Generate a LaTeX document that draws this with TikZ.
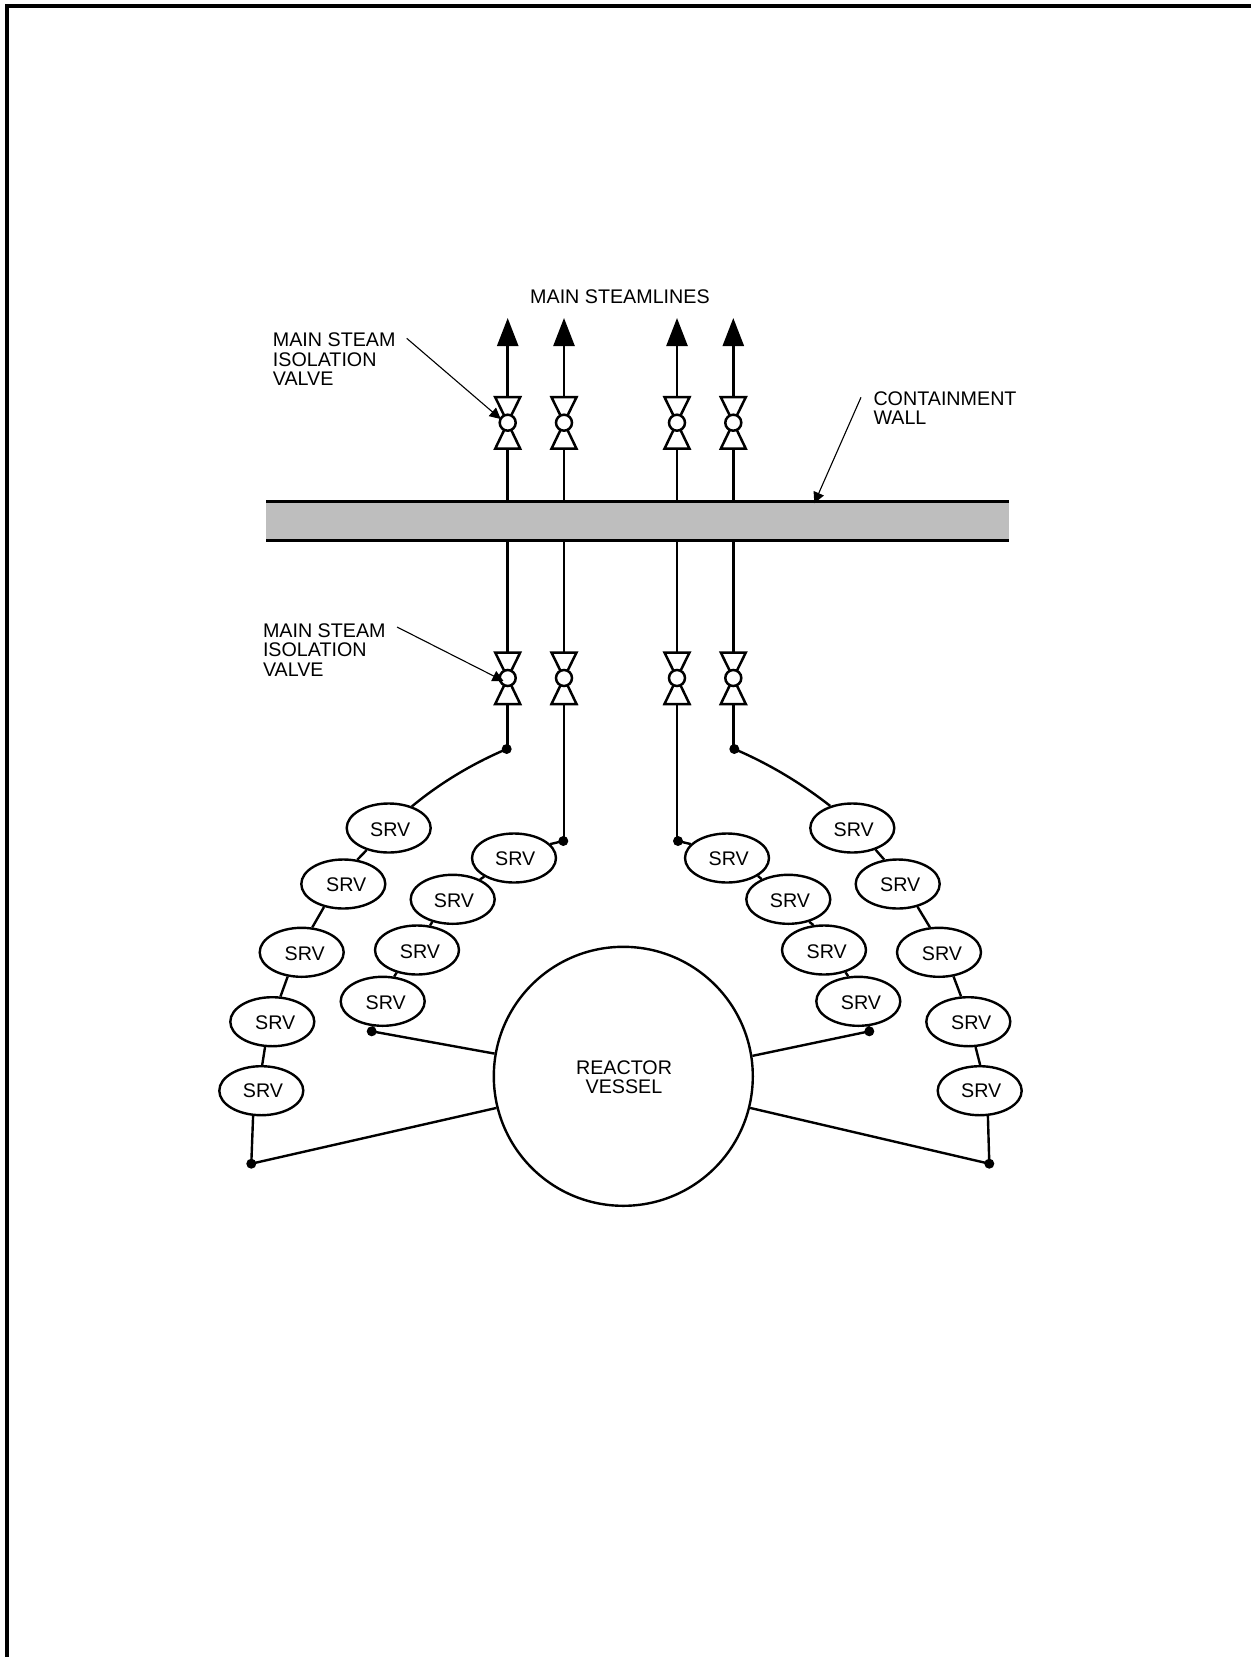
\documentclass[tikz,border=0pt]{standalone}
\usepackage{fontspec}
\setmainfont{Liberation Sans}
\usetikzlibrary{arrows.meta,shapes.geometric}
\tikzset{
  pipe/.style={line width=2.5pt,black},
  link/.style={line width=2.4pt,black},
  srv/.style={ellipse,draw,line width=2.4pt,fill=white,minimum width=84pt,minimum height=49pt,inner sep=0pt},
  srvtext/.style={font=\fontsize{19.7}{20}\selectfont,inner sep=0pt,anchor=center},
  lbl/.style={font=\fontsize{19.7}{19.5}\selectfont,align=left,inner sep=0pt,anchor=north west},
  dotnode/.style={circle,fill=black,minimum size=10pt,inner sep=0pt},
  vcircle/.style={circle,draw,line width=2.5pt,fill=white,minimum size=16pt,inner sep=0pt},
  vtri/.style={draw,line width=2.5pt,fill=white,line join=miter},
  bigarrow/.style={pipe,-{Triangle[length=28pt,width=21pt]}},
  thinarrow/.style={line width=1.1pt,black,-{Triangle[length=11pt,width=11pt]}}
}
\newcommand{\valve}[3]{%
  \draw[vtri] (#2-12.5,#3-25.5) -- (#2+12.5,#3-25.5) -- (#2,#3) -- cycle;
  \draw[vtri] (#2-12.5,#3+26) -- (#2+12.5,#3+26) -- (#2,#3) -- cycle;
  \node[vcircle] (#1) at (#2,#3) {};
}
\begin{document}
\begin{tikzpicture}[x=1pt,y=-1pt]
\useasboundingbox (0,0) rectangle (1251,1657);
% sheet edge
\draw[line width=4pt,line cap=butt] (7.3,1657) -- (7.3,6.3) -- (1251,6.3);
% wall
\fill[fill={rgb,255:red,190;green,190;blue,190}] (266,501.3) rectangle (1009,540.3);
\coordinate (wallTL) at (266,501.3);
\coordinate (wallTR) at (1009,501.3);
\coordinate (wallBL) at (266,540.3);
\coordinate (wallBR) at (1009,540.3);
\draw[pipe] (wallTL) -- (wallTR);
\draw[pipe] (wallBL) -- (wallBR);
% pipe coordinates
\foreach \n/\x in {1/507.7,2/564,3/677,4/733.3}{
  \coordinate (tip\n) at (\x,318);
  \coordinate (wu\n) at (\x,501);
  \coordinate (wd\n) at (\x,542);
}
% dots
\node[dotnode] (d1) at (506.7,749) {};
\node[dotnode] (d2) at (563.3,841) {};
\node[dotnode] (d3) at (678,841) {};
\node[dotnode] (d4) at (734.3,749) {};
\node[dotnode] (d5) at (371.7,1031.3) {};
\node[dotnode] (d6) at (869.3,1031.3) {};
\node[dotnode] (d7) at (251.3,1163.7) {};
\node[dotnode] (d8) at (989.3,1163.7) {};
% pipes
\foreach \n in {1,2,3,4}{
  \draw[bigarrow] (wu\n) -- (tip\n);
}
\draw[pipe] (wd1) -- (507.7,749);
\draw[pipe] (wd2) -- (564,841);
\draw[pipe] (wd3) -- (677,841);
\draw[pipe] (wd4) -- (733.3,749);
% valves
\valve{vu1}{507.7}{422.7}
\valve{vu2}{564}{422.7}
\valve{vu3}{677}{422.7}
\valve{vu4}{733.3}{422.7}
\valve{vd1}{507.7}{678}
\valve{vd2}{564}{678}
\valve{vd3}{677}{678}
\valve{vd4}{733.3}{678}
% vessel
\node[circle,draw,line width=2.4pt,minimum size=259pt,inner sep=0pt,fill=white] (V) at (623.3,1076.3) {};
\node[font=\fontsize{19.7}{18.8}\selectfont,align=center,inner sep=0pt] (Vt) at (624,1077.5) {REACTOR\\VESSEL};
% SRV ellipses
\foreach \n/\x/\y in {
 E1/388.7/828,E2/343.3/884,E3/301.7/952.3,E4/272.3/1021.7,E5/261.3/1090.7,
 I1/514/858,I2/452.7/899.3,I3/417/950,I4/382.7/1001.3,
 R1/727/858,R2/788.3/899.3,R3/824/950,R4/858.3/1001.3,
 O1/852.3/828,O2/897.7/884,O3/939/952.3,O4/968.3/1021.7,O5/979.7/1090.7}{
  \node[srv] (\n) at (\x,\y) {};
}
\foreach \n/\x/\y in {
 E1/390.3/830,E2/346.3/885,E3/304.7/953.6,E4/275.3/1023,E5/263/1091,
 I1/515.3/858.8,I2/454/900.6,I3/420/952,I4/385.7/1002.6,
 R1/728.7/858.8,R2/790/900.6,R3/826.7/952,R4/861/1002.6,
 O1/853.7/830,O2/900.3/885,O3/942/953.6,O4/971.3/1023,O5/981.3/1091}{
  \node[srvtext] (t\n) at (\x,\y) {SRV};
}
% links
\draw[link] (d1.center) .. controls (472.5,763.6) and (440.8,782.5) .. (E1.43);
\draw[link] (E1.225) -- (E2.60);
\draw[link] (E2.230) -- (E3.67);
\draw[link] (E3.240) -- (E4.72);
\draw[link] (E4.254) -- (E5.88);
\draw[link] (E5.252) -- (d7.center);
\draw[link] (d7.center) -- (V.194);
\draw[link] (d2.center) -- (I1.21);
\draw[link] (I1.212) -- (I2.36);
\draw[link] (I2.228) -- (I3.62);
\draw[link] (I3.228) -- (I4.65);
\draw[link] (I4.250) -- (d5.center);
\draw[link] (d5.center) -- (V.170.6);
\draw[link] (d4.center) .. controls (768.5,763.6) and (800.2,782.5) .. (O1.135);
\draw[link] (O1.-43) -- (O2.119);
\draw[link] (O2.-49) -- (O3.110.6);
\draw[link] (O3.-59.5) -- (O4.106.8);
\draw[link] (O4.-74) -- (O5.89);
\draw[link] (O5.-72) -- (d8.center);
\draw[link] (d8.center) -- (V.-14.2);
\draw[link] (d3.center) -- (R1.159);
\draw[link] (R1.-30) -- (R2.143);
\draw[link] (R2.-47) -- (R3.113.7);
\draw[link] (R3.-46) -- (R4.112);
\draw[link] (R4.-68) -- (d6.center);
\draw[link] (d6.center) -- (V.9.9);
% labels
\node[lbl,anchor=base west] (lsteam) at (530,303.5) {MAIN STEAMLINES};
\node[lbl] (lmu) at (272.7,332.8) {MAIN STEAM\\ISOLATION\\VALVE};
\node[lbl] (lmd) at (262.8,623.5) {MAIN STEAM\\ISOLATION\\VALVE};
\node[lbl] (lcw) at (873.3,391.5) {CONTAINMENT\\WALL};
% leader arrows
\coordinate (au) at (406.7,338.3);
\coordinate (ad) at (397,627);
\coordinate (ac) at (861,397.3);
\coordinate (acw) at (814.3,503.3);
\coordinate (auT) at (500.7,419);
\coordinate (adT) at (503.5,681);
\draw[thinarrow] (au) -- (auT);
\draw[thinarrow] (ad) -- (adT);
\draw[thinarrow] (ac) -- (acw);
\end{tikzpicture}
\end{document}
